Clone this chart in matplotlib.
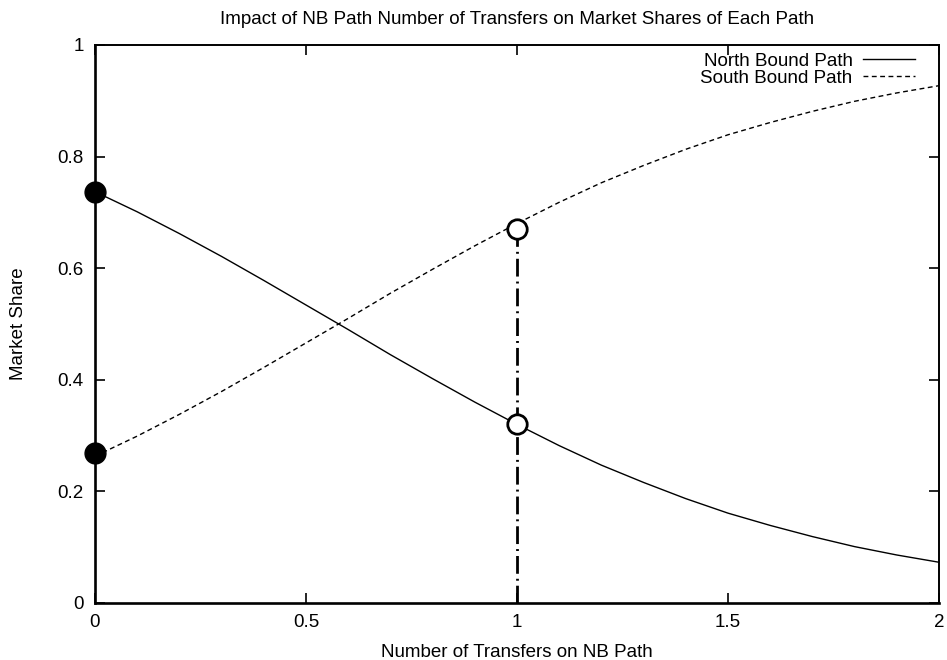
import matplotlib
matplotlib.use("Agg")
import matplotlib.pyplot as plt

# ============================================================
# Market share data (step 0.1)
# ============================================================
transfers = [0.0, 0.1, 0.2, 0.3, 0.4, 0.5, 0.6, 0.7, 0.8, 0.9, 1.0,
             1.1, 1.2, 1.3, 1.4, 1.5, 1.6, 1.7, 1.8, 1.9, 2.0]
north_share = [0.737, 0.701, 0.662, 0.621, 0.578, 0.534, 0.490, 0.445, 0.402, 0.360, 0.320,
               0.282, 0.247, 0.216, 0.187, 0.161, 0.139, 0.119, 0.101, 0.086, 0.073]
south_share = [0.263, 0.299, 0.338, 0.379, 0.422, 0.466, 0.510, 0.555, 0.598, 0.640, 0.680,
               0.718, 0.753, 0.784, 0.813, 0.839, 0.861, 0.881, 0.899, 0.914, 0.927]

# base case (filled) and scenario (open) markers
base_x = 0.0
base_north = 0.737
base_south = 0.268
scen_x = 1.0
scen_north = 0.320
scen_south = 0.670

x_ticks = [0, 0.5, 1, 1.5, 2]
x_tick_labels = ["0", "0.5", "1", "1.5", "2"]
y_ticks = [0, 0.2, 0.4, 0.6, 0.8, 1]
y_tick_labels = ["0", "0.2", "0.4", "0.6", "0.8", "1"]

plt.rcParams["font.family"] = ["Liberation Sans", "DejaVu Sans"]
FS = 13.5

fig = plt.figure(figsize=(9.47, 6.60), dpi=100)
ax = fig.add_axes([0.1003, 0.0864, 0.8912, 0.8455])

ax.plot(transfers, north_share, color="black", lw=1.0, label="North Bound Path")
ax.plot(transfers, south_share, color="black", lw=1.0, ls=(0, (3.5, 2.5)),
        label="South Bound Path")

# vertical marker line at the scenario
ax.plot([scen_x, scen_x], [0, scen_south], color="black", lw=2.0,
        ls=(0, (6.4, 1.8, 0.7, 1.8)))

ax.plot([base_x, base_x], [base_north, base_south], ls="none", marker="o",
        ms=15, mfc="black", mec="black", clip_on=False, zorder=5)
ax.plot([scen_x, scen_x], [scen_north, scen_south], ls="none", marker="o",
        ms=14, mfc="white", mec="black", mew=2.0, zorder=5)

ax.set_xlim(0, 2)
ax.set_ylim(0, 1)
ax.set_xticks(x_ticks)
ax.set_xticklabels(x_tick_labels)
ax.set_yticks(y_ticks)
ax.set_yticklabels(y_tick_labels)
ax.tick_params(direction="in", length=7, width=1.2, top=True, right=True,
               labelsize=FS, pad=8, colors="black")
for side in ["top", "right"]:
    ax.spines[side].set_linewidth(1.4)
for side in ["left", "bottom"]:
    ax.spines[side].set_linewidth(1.9)

ax.set_xlabel("Number of Transfers on NB Path", fontsize=FS, labelpad=9)
ax.set_ylabel("Market Share", fontsize=FS, labelpad=22)
ax.set_title("Impact of NB Path Number of Transfers on Market Shares of Each Path",
             fontsize=FS, pad=15)

leg = ax.legend(loc="upper right", bbox_to_anchor=(0.98, 1.0), frameon=False,
                fontsize=FS, markerfirst=False, handlelength=2.77,
                handletextpad=0.53, labelspacing=0.0, borderaxespad=0.0,
                borderpad=0.4)
for h in leg.get_lines():
    h.set_linewidth(1.0)

fig.savefig("out.png", dpi=100)
